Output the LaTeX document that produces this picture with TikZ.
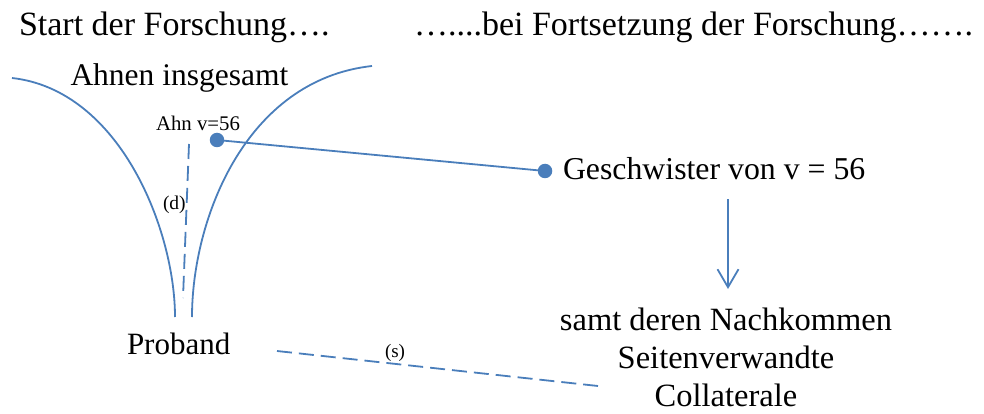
\documentclass[tikz,border=0pt]{standalone}
\usepackage{fontspec}
\setmainfont{Liberation Serif}
\usetikzlibrary{arrows.meta}
\definecolor{lineblue}{RGB}{74,126,187}
\tikzset{
  lbl/.style={inner sep=0pt, outer sep=0pt, anchor=base west, text=black},
  bigtxt/.style={lbl, font=\fontsize{34}{40}\selectfont},
  midtxt/.style={lbl, font=\fontsize{31.8}{38}\selectfont},
  smalltxt/.style={lbl, font=\fontsize{20.5}{24}\selectfont},
  curve/.style={draw=lineblue, line width=1.8pt},
  dashline/.style={draw=lineblue, line width=1.8pt, dash pattern=on 15pt off 7pt},
  dotnode/.style={circle, fill=lineblue, inner sep=0pt, minimum size=14.5pt},
}
\begin{document}
\begin{tikzpicture}[x=1pt, y=-1pt]
\useasboundingbox (0,0) rectangle (984,414);
% titles
\node[bigtxt] (start) at (19,36) {Start der Forschung….};
\node[bigtxt] (fort) at (414,36) {…....bei Fortsetzung der Forschung…….};
% labels
\node[midtxt, font=\fontsize{31.5}{38}\selectfont] (ahnen) at (70.5,86) {Ahnen insgesamt};
\node[smalltxt, font=\fontsize{20.8}{24}\selectfont] (ahn) at (156,131) {Ahn v=56};
\node[smalltxt, font=\fontsize{19.5}{24}\selectfont] (d) at (163,209) {(d)};
\node[midtxt, font=\fontsize{31}{38}\selectfont] (proband) at (127,354) {Proband};
\node[smalltxt, font=\fontsize{19}{24}\selectfont] (s) at (385,357) {(s)};
\node[midtxt] (gesch) at (563,179) {Geschwister von v = 56};
\node[inner sep=0pt, outer sep=0pt, align=center, anchor=base,
      font=\fontsize{32.5}{38}\selectfont] (samt) at (726,406)
  {samt deren Nachkommen\\Seitenverwandte\\Collaterale};
% funnel curves
\draw[curve] (12,78) .. controls (120,90) and (175,230) .. (175,317);
\draw[curve] (372,66) .. controls (245,80) and (192,220) .. (192,317);
% dots and connector
\node[dotnode] (dotahn) at (217,140) {};
\node[dotnode] (dotgesch) at (545,171) {};
\draw[curve] (dotahn.center) -- (dotgesch.center);
% arrow
\coordinate (arrtop) at (728,199);
\coordinate (arrbot) at (728,289);
\draw[curve, -{Straight Barb[length=18pt, width=21pt, line width=1.8pt]}] (arrtop) -- (arrbot);
% dashed lines
\coordinate (dtop) at (189,144);
\coordinate (dbot) at (183,298);
\draw[dashline] (dtop) -- (dbot);
\coordinate (sleft) at (277,351);
\coordinate (sright) at (598,386);
\draw[dashline] (sleft) -- (sright);
\end{tikzpicture}
\end{document}
